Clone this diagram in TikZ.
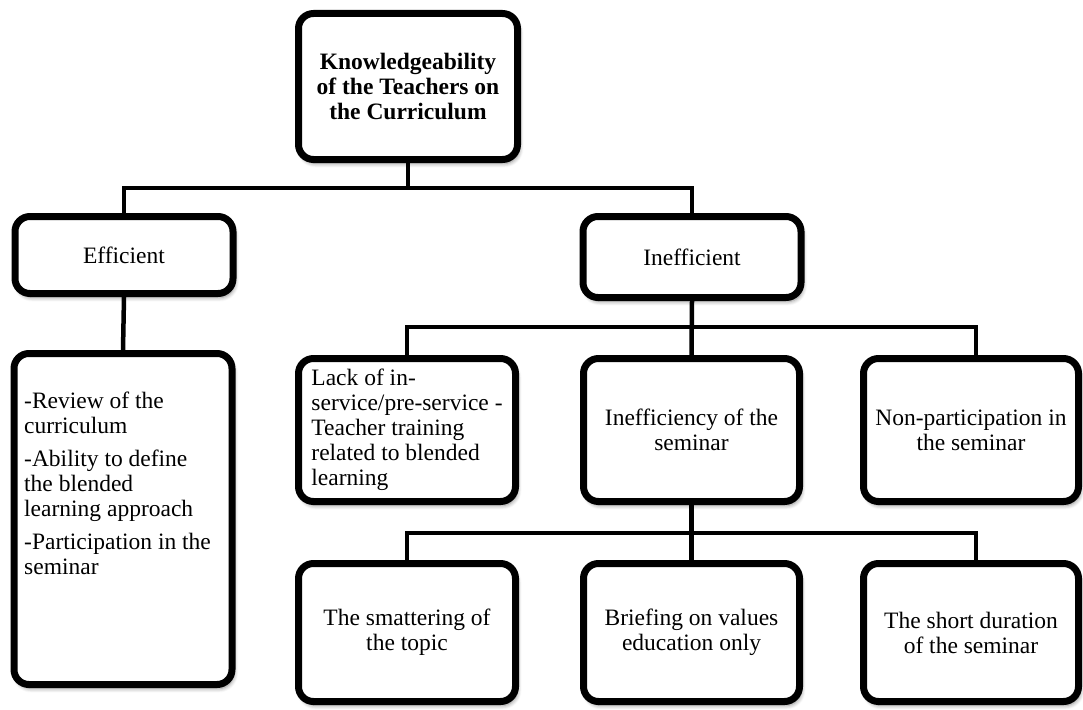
\documentclass[tikz,border=0pt]{standalone}
\usepackage{fontspec}
\setmainfont{Liberation Serif}
\usetikzlibrary{shadows.blur}
\tikzset{
  box/.style={draw=black, fill=white, line width=7pt, rounded corners=15pt,
    blur shadow={shadow xshift=2pt, shadow yshift=-4pt, shadow blur steps=6, shadow opacity=45, shadow blur radius=4pt},
    inner sep=2pt, font=\fontsize{23.5}{25}\selectfont},
  conn/.style={draw=black, line width=4.5pt},
}
\begin{document}
\begin{tikzpicture}[x=1pt,y=-1pt]
\useasboundingbox (0,0) rectangle (1083,709);
% junction coordinates
\coordinate (j1) at (408,188);
\coordinate (j2) at (691.5,327);
\coordinate (j3) at (691.5,533);
\coordinate (r2) at (976,327);
\coordinate (r3) at (976,533);

\node[box, minimum width=219pt, minimum height=146pt, align=center, font=\fontsize{23.5}{25}\selectfont\bfseries] (top) at (408,86.5) {Knowledgeability\\of the Teachers on\\the Curriculum};
\node[box, minimum width=218pt, minimum height=77pt] (eff) at (124,255) {Efficient};
\node[box, minimum width=218pt, minimum height=81pt] (ineff) at (692,257) {Inefficient};
\node[box, minimum width=218pt, minimum height=331pt] (list) at (123,519) {};
\node[box, minimum width=217pt, minimum height=143pt, align=left] (lack) at (407,430) {Lack of in-\\service/pre-service -\\Teacher training\\related to blended\\learning};
\node[box, minimum width=216pt, minimum height=143pt, align=center] (mid) at (691.5,430) {Inefficiency of the\\seminar};
\node[box, minimum width=215pt, minimum height=143pt, align=center] (non) at (971,430) {Non-participation in\\the seminar};
\node[box, minimum width=217pt, minimum height=138pt, align=center] (s1) at (407,632.5) {The smattering of\\the topic};
\node[box, minimum width=216pt, minimum height=138pt, align=center] (s2) at (691.5,632.5) {Briefing on values\\education only};
\node[box, minimum width=215pt, minimum height=138pt, align=center] (s3) at (971,632.5) {The short duration\\of the seminar};

\node[anchor=north west, align=left, inner sep=0pt, font=\fontsize{23.5}{25}\selectfont] (listtext) at ([xshift=13.5pt, yshift=-42pt]list.north west)
  {-Review of the\\curriculum\\[8pt]-Ability to define\\the blended\\learning approach\\[8pt]-Participation in the\\seminar};

% connectors
\begin{scope}[conn]
\draw (top.south) -- (j1);
\draw (eff.north) |- (j1) -| (ineff.north);
\draw (eff.south) -- (list.north);
\draw (ineff.south) -- (mid.north);
\draw (lack.north) |- (j2) -- (r2) -- (r2 |- non.north);
\draw (mid.south) -- (j3);
\draw (s1.north) |- (j3) -- (r3) -- (r3 |- s3.north);
\draw (j3) -- (s2.north);
\end{scope}
\end{tikzpicture}
\end{document}
